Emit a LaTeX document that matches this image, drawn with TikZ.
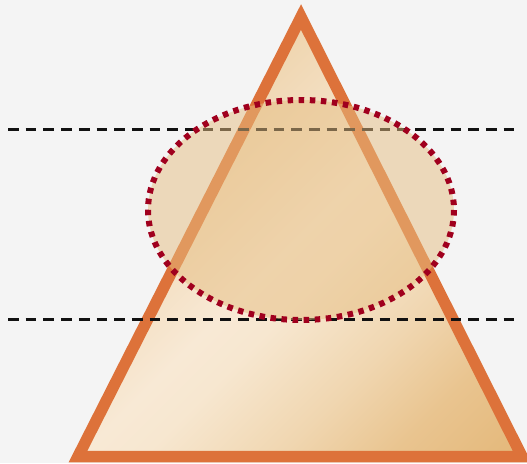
\documentclass[tikz,border=0pt]{standalone}
\usetikzlibrary{shapes.geometric}
\definecolor{bg}{HTML}{F4F4F4}
\definecolor{tristroke}{HTML}{DD723A}
\definecolor{ellfill}{HTML}{E6BE82}
\definecolor{elldot}{HTML}{A0001E}
\definecolor{dashcol}{HTML}{111111}
\pgfdeclarehorizontalshading{tridiag}{100bp}{%
  color(0bp)=(rgb,255:red,232;green,200;blue,148);
  color(33bp)=(rgb,255:red,239;green,213;blue,175);
  color(50bp)=(rgb,255:red,248;green,233;blue,213);
  color(55bp)=(rgb,255:red,247;green,231;blue,208);
  color(66bp)=(rgb,255:red,240;green,214;blue,176);
  color(75bp)=(rgb,255:red,233;green,196;blue,143);
  color(85bp)=(rgb,255:red,228;green,184;blue,122);
  color(100bp)=(rgb,255:red,224;green,176;blue,112)}
\tikzset{
  tri/.style={draw=tristroke, line width=11.5pt, line join=miter,
    shading=tridiag, shading angle=-45},
  cutline/.style={draw=dashcol, line width=3pt, dash pattern=on 10.7pt off 7pt},
  ellarea/.style={fill=ellfill, fill opacity=0.5},
  elledge/.style={draw=elldot, line width=6pt, dash pattern=on 5.5pt off 5.6pt}
}
\begin{document}
\begin{tikzpicture}[x=1pt,y=-1pt]
\useasboundingbox[fill=bg] (0,0) rectangle (527,463);
\coordinate (apex) at (301,17);
\coordinate (bl) at (78,456.5);
\coordinate (br) at (522,456.5);
\coordinate (c) at (301,210);
\coordinate (l1a) at (8,129);
\coordinate (l1b) at (521,129);
\coordinate (l2a) at (8,319);
\coordinate (l2b) at (521,319);
\path[tri] (apex) -- (br) -- (bl) -- cycle;
\draw[cutline] (l1a) -- (l1b);
\draw[cutline] (l2a) -- (l2b);
\path[ellarea] (c) ellipse [x radius=153, y radius=110];
\draw[elledge] (c) ellipse [x radius=153, y radius=110];
\end{tikzpicture}
\end{document}
